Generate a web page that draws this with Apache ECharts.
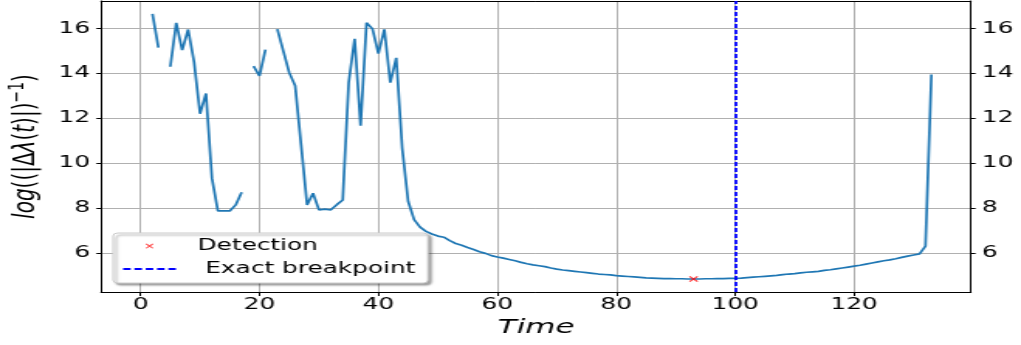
<!DOCTYPE html>
<html>
<head>
<meta charset="utf-8">
<script src="https://cdn.jsdelivr.net/npm/echarts@6/dist/echarts.min.js"></script>
<style>
html, body { margin: 0; padding: 0; background: #fff; overflow: hidden; }
/* the reference figure is stretched horizontally, so draw narrow and stretch */
#chart { width: 659px; height: 345px; transform: scaleX(1.5493); transform-origin: 0 0; }
</style>
</head>
<body>
<div id="chart"></div>
<script>
var xTicks = [0, 20, 40, 60, 80, 100, 120];
var yTicks = [6, 8, 10, 12, 14, 16];

// log((|dλ(t)|)^-1) for t = 0..133, null where the value is missing
var logValues = [
	null, null, 16.65, 15.14, null, 14.29, 16.25, 15.03, 15.95, 14.50,
	12.20, 13.10, 9.33, 7.87, 7.87, 7.87, 8.14, 8.70, null, 14.32,
	13.88, 15.05, null, 15.97, 15.00, 14.03, 13.45, 10.80, 8.14, 8.66,
	7.92, 7.95, 7.92, 8.15, 8.36, 13.58, 15.54, 11.67, 16.25, 15.98,
	14.88, 15.96, 13.58, 14.69, 10.67, 8.30, 7.48, 7.15, 6.96, 6.84,
	6.75, 6.70, 6.55, 6.42, 6.34, 6.24, 6.15, 6.05, 5.98, 5.88,
	5.82, 5.77, 5.71, 5.65, 5.58, 5.52, 5.47, 5.43, 5.39, 5.33,
	5.28, 5.24, 5.21, 5.18, 5.15, 5.12, 5.09, 5.06, 5.04, 5.02,
	4.99, 4.97, 4.95, 4.93, 4.91, 4.89, 4.88, 4.87, 4.86, 4.86,
	4.85, 4.85, 4.84, 4.84, 4.84, 4.85, 4.85, 4.86, 4.86, 4.87,
	4.87, 4.88, 4.90, 4.92, 4.94, 4.96, 4.98, 5.00, 5.03, 5.06,
	5.08, 5.11, 5.14, 5.16, 5.18, 5.22, 5.25, 5.29, 5.33, 5.37,
	5.41, 5.45, 5.50, 5.55, 5.60, 5.65, 5.69, 5.74, 5.80, 5.86,
	5.91, 5.96, 6.30, 13.95
];
var detection = [93, 4.84];
var breakpoint = 100;

var crossPath = 'path://M-7.5,-10L10,7.5L7.5,10L-10,-7.5ZM7.5,-10L10,-7.5L-7.5,10L-10,7.5Z';
var crossIcon = 'path://M-67,-28L-67,-28M67,28L67,28M-7.5,-10L10,7.5L7.5,10L-10,-7.5ZM7.5,-10L10,-7.5L-7.5,10L-10,7.5Z';
// five dashes inside a 34x14 box
var dashIcon = 'path://M0,0L0,0M34,14L34,14' +
	'M0,6.1h4.8v1.8h-4.8Z' +
	'M7.3,6.1h4.8v1.8h-4.8Z' +
	'M14.6,6.1h4.8v1.8h-4.8Z' +
	'M21.9,6.1h4.8v1.8h-4.8Z' +
	'M29.2,6.1h4.8v1.8h-4.8Z';

var font = 'DejaVu Sans';
var lineData = logValues.map(function(v, i) {
	return v === null ? [i, '-'] : [i, v];
});

var chart = echarts.init(document.getElementById('chart'));

function yAxisOpt(pos) {
	return {
		type : 'value',
		position : pos,
		min : 4.26,
		max : 17.22,
		splitNumber : 6,
		axisLine : { show : true, onZero : false, lineStyle : { color : '#000', width : 1 } },
		axisTick : { show : true, inside : false, length : 3, customValues : yTicks, lineStyle : { color : '#000' } },
		axisLabel : { customValues : yTicks, color : '#000', fontFamily : font, fontSize : 16, margin : 7 },
		splitLine : { show : pos === 'left', lineStyle : { color : '#b0b0b0', width : 1 } }
	};
}

var leftY = yAxisOpt('left');
leftY.name = '{i|log}{n|((|Δ}{i|λ}{n|(}{i|t}{n|)|)}{s|−1}{n|)}';
leftY.nameLocation = 'middle';
leftY.nameGap = 31;
leftY.nameTextStyle = {
	rich : {
		i : { fontFamily : font, fontStyle : 'italic', fontSize : 20, color : '#000', lineHeight : 26 },
		n : { fontFamily : font, fontSize : 20, color : '#000', lineHeight : 26 },
		s : { fontFamily : font, fontSize : 14, color : '#000', lineHeight : 14, verticalAlign : 'top' }
	}
};

chart.setOption({
	animation : false,
	backgroundColor : '#fff',
	grid : { left : 65.2, right : 32.3, top : 1, bottom : 53, show : false, containLabel : false, outerBoundsMode : 'none' },
	legend : {
		orient : 'vertical',
		left : 73,
		top : 233,
		padding : [3, 8, 4, 6.5],
		itemWidth : 34,
		itemHeight : 14,
		itemGap : 3,
		backgroundColor : '#fff',
		borderColor : '#cccccc',
		borderWidth : 1,
		borderRadius : 3,
		shadowColor : 'rgba(0,0,0,0.35)',
		shadowBlur : 2,
		shadowOffsetX : 2,
		shadowOffsetY : 2,
		textStyle : { fontFamily : font, fontSize : 16, color : '#000', lineHeight : 20 },
		data : [
			{ name : 'Detection', icon : crossIcon, textStyle : { padding : [0, 0, 0, 9] } },
			{ name : 'Exact breakpoint', icon : dashIcon, textStyle : { padding : [0, 0, 0, 14] } }
		]
	},
	xAxis : [{
		type : 'value',
		min : -6.65,
		max : 139.65,
		splitNumber : 7,
		name : 'Time',
		nameLocation : 'middle',
		nameGap : 23,
		nameTextStyle : { fontFamily : font, fontStyle : 'italic', fontSize : 20, color : '#000' },
		axisLine : { show : true, onZero : false, lineStyle : { color : '#000', width : 1 } },
		axisTick : { show : true, length : 4, customValues : xTicks, lineStyle : { color : '#000' } },
		axisLabel : { customValues : xTicks, color : '#000', fontFamily : font, fontSize : 16, margin : 5 },
		splitLine : { show : true, lineStyle : { color : '#b0b0b0', width : 1 } }
	}, {
		type : 'value',
		position : 'top',
		min : -6.65,
		max : 139.65,
		axisLine : { show : true, onZero : false, lineStyle : { color : '#000', width : 1 } },
		axisTick : { show : false },
		axisLabel : { show : false },
		splitLine : { show : false }
	}],
	yAxis : [leftY, yAxisOpt('right')],
	series : [{
		name : 'log',
		type : 'line',
		data : lineData,
		showSymbol : false,
		symbol : 'none',
		connectNulls : false,
		z : 3,
		lineStyle : { color : '#1f77b4', width : 1.7 }
	}, {
		name : 'Detection',
		type : 'scatter',
		data : [detection],
		symbol : crossPath,
		symbolSize : [6, 6],
		z : 4,
		itemStyle : { color : '#ff0000' }
	}, {
		name : 'Exact breakpoint',
		type : 'line',
		data : [],
		symbol : 'none',
		z : 5,
		itemStyle : { color : '#0000ff' },
		lineStyle : { color : '#0000ff', type : [4, 2], width : 1.8 },
		markLine : {
			silent : true,
			symbol : 'none',
			label : { show : false },
			lineStyle : { color : '#0000ff', type : [4, 2], width : 1.8 },
			data : [{ xAxis : breakpoint }]
		}
	}]
});
</script>
</body>
</html>
